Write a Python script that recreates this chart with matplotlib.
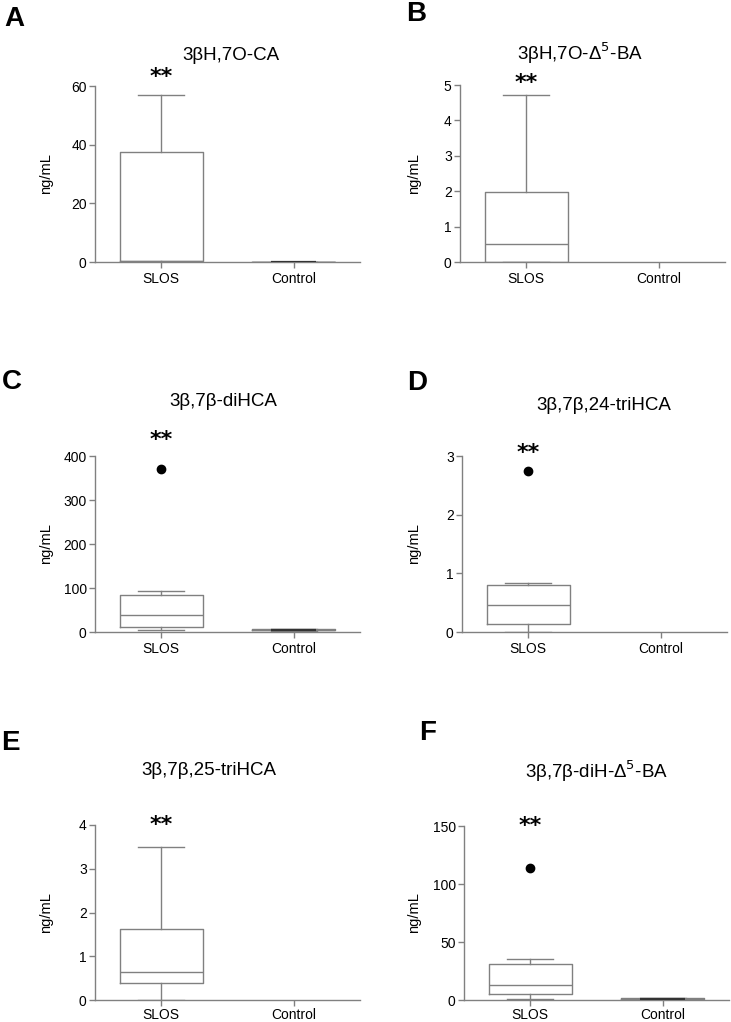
import matplotlib
matplotlib.use("Agg")
import matplotlib.pyplot as plt

plt.rcParams['font.family'] = ['Liberation Sans', 'DejaVu Sans']

# panel data (ng/mL)
groups = ["SLOS", "Control"]
titles = ["3βH,7O-CA", "3βH,7O-Δ$^5$-BA", "3β,7β-diHCA",
          "3β,7β,24-triHCA", "3β,7β,25-triHCA", "3β,7β-diH-Δ$^5$-BA"]
letters = ["A", "B", "C", "D", "E", "F"]
ymax = [60, 5, 400, 3, 4, 150]
ystep = [20, 1, 100, 1, 1, 50]

# five-number summaries: whislo, q1, med, q3, whishi
slos_stats = [
    [0, 0.2, 0.4, 37.5, 57],
    [0, 0, 0.5, 1.97, 4.72],
    [5, 12, 38, 84, 93],
    [0, 0.13, 0.46, 0.8, 0.84],
    [0, 0.38, 0.65, 1.62, 3.5],
    [0.5, 5, 13, 31, 35],
]
slos_outliers = [[], [], [370], [2.75], [], [114]]
control_stats = [
    [0, 0, 0, 0, 0],
    None,
    [3, 4, 5, 6, 7],
    None,
    None,
    [0.5, 0.8, 1.0, 1.3, 1.5],
]
# height of the "**" marks, in data units
star_y = [63, 5.07, 436, 3.05, 4.0, 150]

W, H = 731, 1022
fig = plt.figure(figsize=(W / 100, H / 100), dpi=100)

# axes boxes in pixels: left, top, right, bottom(zero line)
ax_px = [(95, 86, 360, 262), (460, 85, 725, 262),
         (95, 456, 360, 632), (462, 456, 727, 632),
         (95, 825, 360, 1000), (464, 826, 729, 1000)]
title_xy = [(231, 55), (580, 53), (223, 402), (604, 405), (209, 770), (597, 771)]
letter_xy = [(4, 19), (406, 14), (2, 382), (407, 383), (1, 743), (419, 733)]
ylabel_x = [53, 421, 53, 421, 53, 421]
xpad = [3, 3, 3, 3, 1.5, 1.5]

grey = "#808080"

for i in range(6):
    l, t, r, b = ax_px[i]
    ax = fig.add_axes([l / W, 1 - b / H, (r - l) / W, (b - t) / H])

    def mk(s, fl, lab):
        return dict(whislo=s[0], q1=s[1], med=s[2], q3=s[3], whishi=s[4],
                    fliers=fl, label=lab)

    stats = [mk(slos_stats[i], slos_outliers[i], groups[0])]
    pos = [0]
    if control_stats[i] is not None:
        stats.append(mk(control_stats[i], [], groups[1]))
        pos.append(1)
    ax.bxp(stats, positions=pos, widths=0.63, showfliers=True,
           boxprops=dict(color=grey, linewidth=1.0),
           whiskerprops=dict(color=grey, linewidth=1.0),
           capprops=dict(color=grey, linewidth=1.0),
           medianprops=dict(color=grey, linewidth=1.0),
           flierprops=dict(marker='o', markerfacecolor='black',
                           markeredgecolor='black', markersize=6),
           capwidths=0.35, manage_ticks=False)
    if control_stats[i] is not None:
        # near-zero control box: overlapping lines read as a dark bar
        c = control_stats[i]
        ax.plot([0.83, 1.17], [c[2], c[2]], color="#333333", lw=1.6,
                solid_capstyle='butt', zorder=3)

    ax.set_xlim(-0.5, 1.5)
    ax.set_ylim(0, ymax[i])
    ax.set_yticks(list(range(0, ymax[i] + 1, ystep[i])))
    ax.set_xticks([0, 1])
    ax.set_xticklabels(groups)
    for s in ["top", "right"]:
        ax.spines[s].set_visible(False)
    for s in ["left", "bottom"]:
        ax.spines[s].set_color(grey)
        ax.spines[s].set_linewidth(1.0)
    ax.spines["bottom"].set_zorder(0)
    ax.tick_params(colors=grey, labelcolor="black", labelsize=10, length=4,
                   width=1.0)
    ax.tick_params(axis='x', pad=xpad[i])
    ax.tick_params(axis='y', pad=2)
    ax.set_ylabel("ng/mL", fontsize=10.5)
    ax.yaxis.set_label_coords((ylabel_x[i] - l) / (r - l), 0.5)
    ax.patch.set_visible(False)

    # significance stars above SLOS
    ax.text(0, star_y[i], "**", ha="center", va="center", fontsize=16,
            fontweight="bold", family="DejaVu Sans", clip_on=False)

    fig.text(title_xy[i][0] / W, 1 - title_xy[i][1] / H, titles[i],
             ha="center", va="center", fontsize=13.5)
    fig.text(letter_xy[i][0] / W, 1 - letter_xy[i][1] / H, letters[i],
             ha="left", va="center", fontsize=20, fontweight="bold")

fig.savefig("out.png", dpi=100)
